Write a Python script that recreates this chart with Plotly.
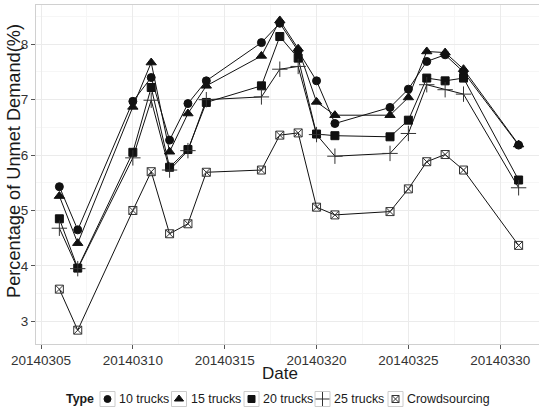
import plotly.graph_objects as go

# Dates (numeric yyyymmdd) and unmet-demand percentage for each fleet type
dates = [20140306, 20140307, 20140310, 20140311, 20140312, 20140313, 20140314,
         20140317, 20140318, 20140319, 20140320, 20140321, 20140324, 20140325,
         20140326, 20140327, 20140328, 20140331]

trucks_10 = [5.43, 4.65, 6.97, 7.40, 6.27, 6.93, 7.34, 8.03, 8.38, 7.88, 7.34, 6.57,
             6.86, 7.19, 7.69, 7.81, 7.50, 6.18]
trucks_15 = [5.26, 4.41, 6.87, 7.67, 6.06, 6.75, 7.25, 7.79, 8.43, 7.92, 6.96, 6.72,
             6.72, 7.04, 7.87, 7.85, 7.55, 6.19]
trucks_20 = [4.85, 3.96, 6.05, 7.22, 5.78, 6.10, 6.95, 7.25, 8.14, 7.75, 6.38, 6.35,
             6.33, 6.63, 7.39, 7.34, 7.39, 5.55]
trucks_25 = [4.68, 3.95, 5.95, 6.99, 5.73, 6.08, 7.00, 7.05, 7.55, 7.60, 6.37, 5.98,
             6.03, 6.39, 7.27, 7.18, 7.10, 5.41]
crowdsourcing = [3.58, 2.84, 5.00, 5.70, 4.58, 4.76, 5.69, 5.73, 6.36, 6.40, 5.06, 4.92,
                 4.98, 5.39, 5.88, 6.01, 5.73, 4.37]

series_names = ["10 trucks", "15 trucks", "20 trucks", "25 trucks", "Crowdsourcing"]
series_values = [trucks_10, trucks_15, trucks_20, trucks_25, crowdsourcing]
symbols = ["circle", "triangle-up", "square", "cross-thin-open", "square-x-open"]
sizes = [8, 9, 8, 11, 8]

x_ticks = [20140305, 20140310, 20140315, 20140320, 20140325, 20140330]
x_minor = [20140307.5, 20140312.5, 20140317.5, 20140322.5, 20140327.5, 20140332.5]
y_ticks = [3, 4, 5, 6, 7, 8]
y_minor = [2.5, 3.5, 4.5, 5.5, 6.5, 7.5, 8.5]

# Legend strip geometry (x2/y2 are a hidden pixel-scaled axis pair under the plot)
key_centers = [107.5, 179, 251.5, 322.5, 395.5]
key_half = 7.5
key_y = 399
label_gap = 9.5

FIG_W, FIG_H = 539, 410
M_L, M_T = 36, 5
PLOT_BOTTOM = 344
plot_h = FIG_H - M_T
main_bottom = (FIG_H - PLOT_BOTTOM) / plot_h
strip_top = 26 / plot_h

ink = "#111111"
open_ink = "#333333"

def marker_style(sym, sz):
    is_open = sym.endswith("open")
    return dict(symbol=sym, size=sz, color=open_ink if is_open else ink,
                line=dict(width=1, color=open_ink if is_open else ink))

fig = go.Figure()

for name, vals, sym, sz in zip(series_names, series_values, symbols, sizes):
    fig.add_trace(go.Scatter(
        x=dates, y=vals, mode="lines+markers", name=name, showlegend=False,
        line=dict(color=ink, width=1), marker=marker_style(sym, sz),
        xaxis="x", yaxis="y",
    ))

# Legend keys
shapes = []
annotations = []
for cx, name, sym, sz in zip(key_centers, series_names, symbols, sizes):
    shapes.append(dict(type="rect", xref="x2", yref="y2",
                       x0=cx - key_half, x1=cx + key_half,
                       y0=key_y - key_half, y1=key_y + key_half,
                       line=dict(color="#cccccc", width=1), fillcolor="#ffffff",
                       layer="below"))
    fig.add_trace(go.Scatter(
        x=[cx], y=[key_y], mode="markers", showlegend=False, hoverinfo="skip",
        marker=marker_style(sym, sz - 1), xaxis="x2", yaxis="y2",
    ))
    annotations.append(dict(text=name, xref="x2", yref="y2", x=cx + label_gap, y=key_y,
                            xanchor="left", yanchor="middle", showarrow=False,
                            font=dict(size=12.4, color="#1a1a1a")))
annotations.append(dict(text="<b>Type</b>", xref="x2", yref="y2", x=96, y=key_y,
                        xanchor="right", yanchor="middle", showarrow=False,
                        font=dict(size=12.4, color="#1a1a1a")))

# Axis titles
annotations.append(dict(text="Date", xref="x domain", yref="y domain",
                        x=(280 - M_L) / (FIG_W - M_L), y=-(373 - PLOT_BOTTOM) / (PLOT_BOTTOM - M_T),
                        xanchor="center", yanchor="middle", showarrow=False,
                        font=dict(size=17, color="#1a1a1a")))
annotations.append(dict(text="Percentage of Unmet Demand(%)", xref="x domain", yref="y domain",
                        x=0, xshift=-(M_L - 14), y=(PLOT_BOTTOM - 161) / (PLOT_BOTTOM - M_T),
                        xanchor="center", yanchor="middle", textangle=-90, showarrow=False,
                        font=dict(size=18.2, color="#1a1a1a")))

grid = "#ebebeb"
minor_grid = "#f6f6f6"
fig.update_layout(
    width=FIG_W, height=FIG_H,
    margin=dict(l=M_L, r=0, t=M_T, b=0),
    paper_bgcolor="white", plot_bgcolor="white",
    font=dict(family="Liberation Sans, Arial, sans-serif", color="#1a1a1a"),
    showlegend=False,
    xaxis=dict(
        range=[20140304.728, 20140332.11],
        tickvals=x_ticks, ticktext=[str(v) for v in x_ticks],
        tickfont=dict(size=13.5, color="#333333"),
        ticks="outside", ticklen=4, tickcolor="#555555",
        showgrid=True, gridcolor=grid, gridwidth=1,
        minor=dict(tickvals=x_minor, showgrid=True, gridcolor=minor_grid, ticks=""),
        showline=True, linecolor="#d0d0d0", mirror=True, zeroline=False,
        anchor="y",
    ),
    yaxis=dict(
        domain=[main_bottom, 1],
        range=[2.590, 8.709],
        tickvals=y_ticks, ticktext=[str(v) for v in y_ticks],
        tickfont=dict(size=13.5, color="#333333"),
        ticks="outside", ticklen=4, tickcolor="#555555",
        showgrid=True, gridcolor=grid, gridwidth=1,
        minor=dict(tickvals=y_minor, showgrid=True, gridcolor=minor_grid, ticks=""),
        showline=True, linecolor="#d0d0d0", mirror=True, zeroline=False,
        anchor="x",
    ),
    xaxis2=dict(range=[M_L, FIG_W], visible=False, fixedrange=True, anchor="y2"),
    yaxis2=dict(domain=[0, strip_top], range=[FIG_H, FIG_H - 26], visible=False,
                fixedrange=True, anchor="x2"),
    shapes=shapes,
    annotations=annotations,
)

fig.write_html("out.html")
